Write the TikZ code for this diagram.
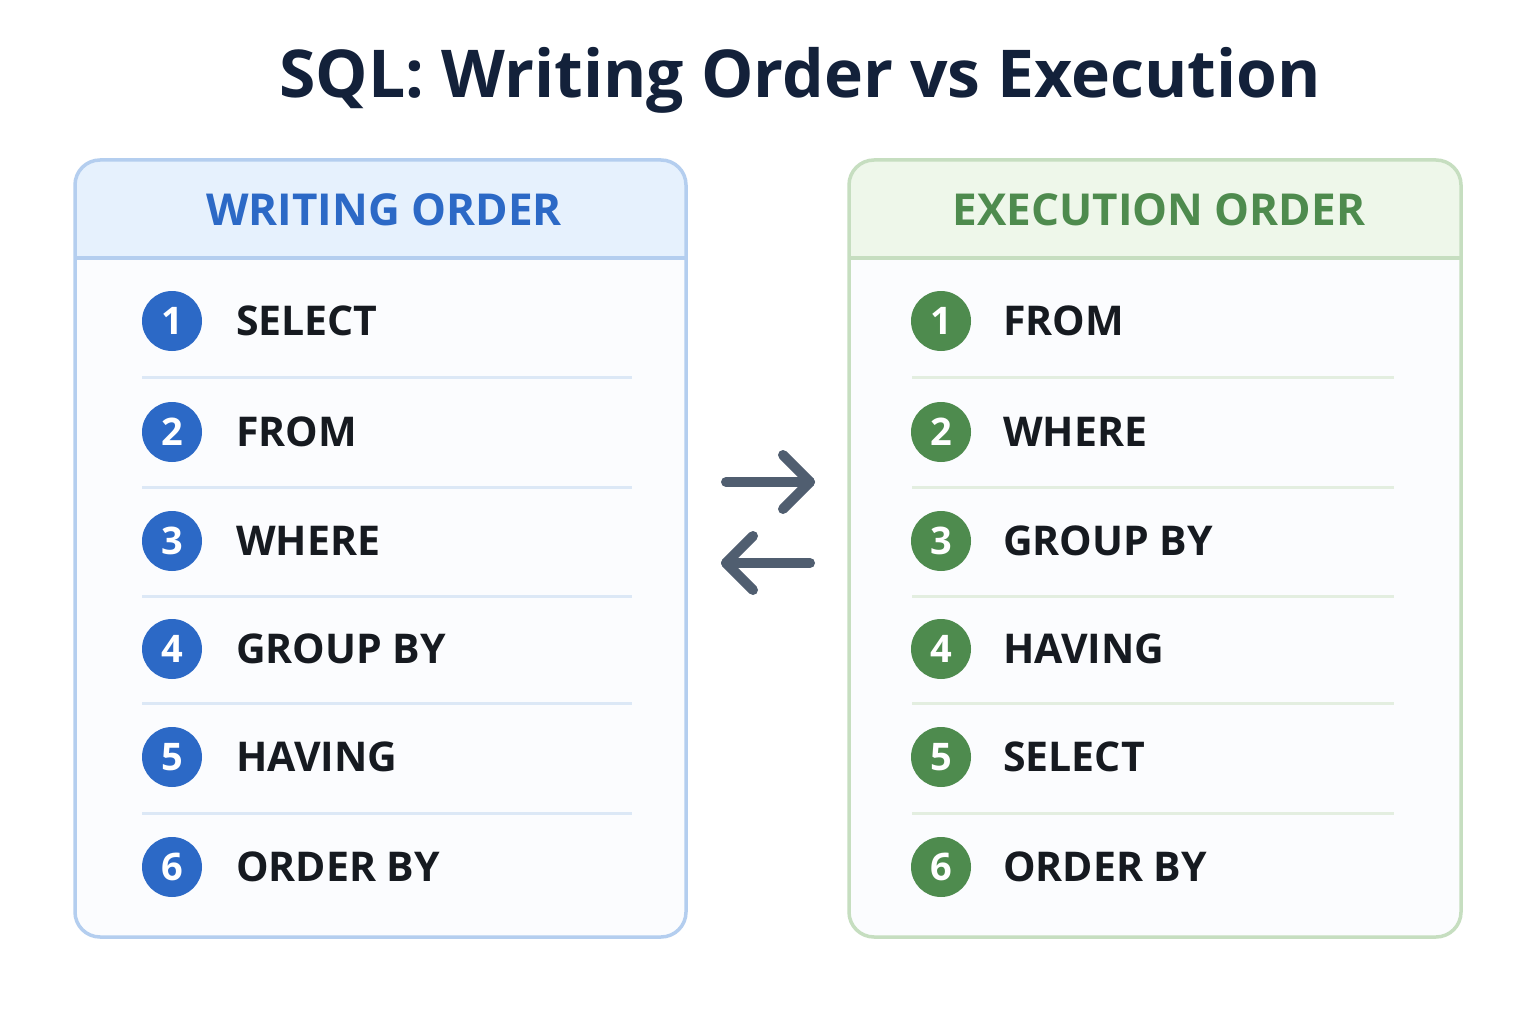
\documentclass[tikz,border=0pt]{standalone}
\usepackage{fontspec}
\setmainfont{Open Sans}
\usetikzlibrary{arrows.meta}
\definecolor{titlec}{HTML}{13213A}
\definecolor{blueA}{HTML}{2C69C6}
\definecolor{blueBorder}{HTML}{B4CEEF}
\definecolor{blueHead}{HTML}{E6F1FD}
\definecolor{blueSep}{HTML}{DCE8F6}
\definecolor{greenA}{HTML}{4E8B4E}
\definecolor{greenBorder}{HTML}{C6DEC0}
\definecolor{greenHead}{HTML}{EEF7EA}
\definecolor{greenSep}{HTML}{E3EEE0}
\definecolor{bodyc}{HTML}{FBFCFE}
\definecolor{itemc}{HTML}{161A20}
\definecolor{arrowc}{HTML}{505E70}
\tikzset{
  numdot/.style={circle, minimum size=60pt, inner sep=0pt, text=white, font=\fontsize{38}{38}\selectfont\bfseries},
  itemtxt/.style={anchor=west, inner sep=0pt, text=itemc, font=\fontsize{41}{41}\selectfont\bfseries},
  headtxt/.style={inner sep=0pt, font=\fontsize{44}{44}\selectfont\bfseries},
  swaparrow/.style={draw=arrowc, line width=10pt, line cap=round, line join=round},
}
\begin{document}
\begin{tikzpicture}[x=1pt,y=-1pt]
\useasboundingbox[fill=white] (0,0) rectangle (1536,1024);
\node[inner sep=0pt, text=titlec, font=\fontsize{66}{66}\selectfont\bfseries] (title) at (800,80) {SQL: Writing Order vs Execution};

% left panel
\begin{scope}
\clip[rounded corners=25pt] (75,160) rectangle (686,937);
\fill[bodyc] (75,258) rectangle (686,937);
\fill[blueHead] (75,160) rectangle (686,258);
\end{scope}
\draw[blueBorder, line width=3.5pt, rounded corners=25pt] (75,160) rectangle (686,937);
\draw[blueBorder, line width=3.5pt] (75,258) -- (686,258);
\node[headtxt, text=blueA] (lhead) at (384,210) {WRITING ORDER};

% right panel
\begin{scope}
\clip[rounded corners=25pt] (849,160) rectangle (1461,937);
\fill[bodyc] (849,258) rectangle (1461,937);
\fill[greenHead] (849,160) rectangle (1461,258);
\end{scope}
\draw[greenBorder, line width=3.5pt, rounded corners=25pt] (849,160) rectangle (1461,937);
\draw[greenBorder, line width=3.5pt] (849,258) -- (1461,258);
\node[headtxt, text=greenA] (rhead) at (1159,210) {EXECUTION ORDER};

% separators
\foreach \y in {377,487,596,703,813} {
  \draw[blueSep, line width=3pt] (142,\y) -- (632,\y);
  \draw[greenSep, line width=3pt] (912,\y) -- (1394,\y);
}

% left items
\foreach \i/\y/\t in {1/321/SELECT,2/432/FROM,3/541/WHERE,4/649/GROUP BY,5/757/HAVING,6/867/ORDER BY} {
  \node[numdot, fill=blueA] (ln\i) at (172,\y) {\i};
  \node[itemtxt] (lt\i) at (236,\y) {\t};
}
% right items
\foreach \i/\y/\t in {1/321/FROM,2/432/WHERE,3/541/GROUP BY,4/649/HAVING,5/757/SELECT,6/867/ORDER BY} {
  \node[numdot, fill=greenA] (rn\i) at (941,\y) {\i};
  \node[itemtxt] (rt\i) at (1003,\y) {\t};
}

% swap arrows
\coordinate (a1s) at (726,482);
\coordinate (a1e) at (810,482);
\coordinate (a2s) at (810,563);
\coordinate (a2e) at (726,563);
\draw[swaparrow] (a1s) -- (a1e);
\draw[swaparrow] ([shift={(-27,-27)}]a1e) -- (a1e) -- ([shift={(-27,27)}]a1e);
\draw[swaparrow] (a2s) -- (a2e);
\draw[swaparrow] ([shift={(27,-27)}]a2e) -- (a2e) -- ([shift={(27,27)}]a2e);
\end{tikzpicture}
\end{document}
